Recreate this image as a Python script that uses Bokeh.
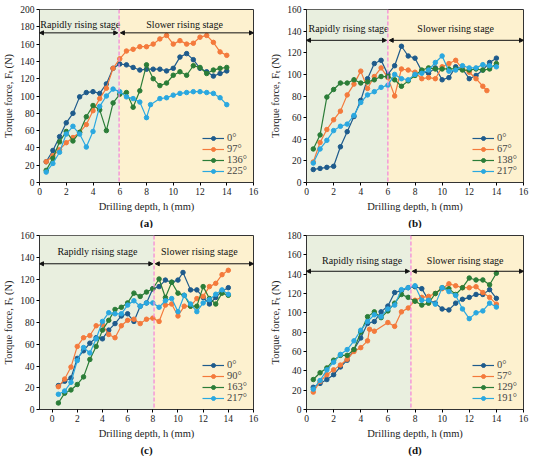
from bokeh.plotting import figure
from bokeh.layouts import gridplot
from bokeh.models import (BoxAnnotation, Span, Arrow, NormalHead, Title,
                          FixedTicker, Range1d, Legend, LegendItem)
from bokeh.core.properties import value
from bokeh.embed import file_html
from bokeh.resources import INLINE

FONT = "Liberation Serif"
COLORS = ["#1E5B8C", "#F47A3C", "#2B7D38", "#2AA8E0"]
GREEN_BG = "#E9EFDF"
YELLOW_BG = "#FDF1CF"
DASH_COLOR = "#F58AD8"

X = [0.5, 1, 1.5, 2, 2.5, 3, 3.5, 4, 4.5, 5, 5.5, 6, 6.5, 7, 7.5, 8, 8.5,
     9, 9.5, 10, 10.5, 11, 11.5, 12, 12.5, 13, 13.5, 14]

# ---- panel (a)
a_labels = ["0°", "97°", "136°", "225°"]
a_x0 = X
a_y0 = [24, 37, 53, 69, 80, 99, 104, 105, 103, 114, 132, 137, 136, 133, 130,
        131, 131, 131, 129, 132, 145, 149, 142, 132, 128, 123, 126, 129]
a_x1 = X
a_y1 = [24, 31, 38, 46, 52, 58, 67, 83, 97, 109, 132, 143, 152, 154, 157,
        157, 160, 166, 170, 160, 164, 160, 161, 168, 170, 162, 151, 147]
a_x2 = X
a_y2 = [14, 28, 47, 59, 48, 58, 76, 89, 84, 60, 92, 102, 104, 87, 106, 136,
        120, 112, 115, 124, 128, 124, 135, 133, 126, 130, 132, 133]
a_x3 = [0.5, 1, 1.5, 2, 2.5, 3, 3.5, 4, 4.5, 5, 5.5, 6, 6.5, 7, 7.5, 8, 8.3,
        9, 9.5, 10, 10.5, 11, 11.5, 12, 12.5, 13, 13.5, 14]
a_y3 = [12, 22, 35, 56, 65, 56, 41, 59, 88, 100, 108, 105, 99, 97, 93, 75,
        90, 97, 98, 101, 103, 104, 105, 105, 104, 103, 98, 90]

# ---- panel (b)
b_labels = ["0°", "67°", "138°", "217°"]
b_x0 = X
b_y0 = [12, 13, 14, 15, 33, 47, 61, 76, 96, 110, 113, 100, 108, 126, 117,
        115, 103, 101, 106, 95, 97, 107, 105, 96, 99, 104, 111, 115]
b_x1 = [0.5, 1, 1.5, 2, 2.5, 3, 3.5, 4, 4.5, 5, 5.5, 6, 6.5, 7, 7.5, 8, 8.5,
        9, 9.5, 10, 10.5, 11, 11.5, 12, 12.5, 13, 13.3]
b_y1 = [19, 37, 49, 58, 66, 81, 91, 103, 87, 98, 106, 97, 80, 105, 104, 102,
        96, 97, 96, 107, 110, 113, 105, 102, 96, 89, 85]
b_x2 = X
b_y2 = [31, 44, 79, 86, 92, 92, 95, 92, 93, 95, 98, 98, 95, 89, 94, 99, 104,
        106, 105, 105, 105, 105, 104, 104, 105, 104, 105, 110]
b_x3 = X
b_y3 = [18, 31, 39, 48, 52, 54, 62, 74, 81, 84, 88, 90, 100, 96, 95, 100, 101,
        104, 111, 117, 103, 104, 108, 106, 106, 109, 108, 107]

# ---- panel (c)
c_labels = ["0°", "90°", "163°", "217°"]
c_x0 = [0.5, 1, 1.5, 2, 2.5, 3, 3.5, 4, 4.5, 5, 5.5, 6, 6.5, 7, 7.5, 8, 8.5,
        9, 9.5, 10, 10.4, 11, 11.5, 12, 12.5, 13, 13.5, 14]
c_y0 = [22, 26, 29, 47, 54, 61, 66, 65, 73, 79, 86, 88, 81, 95, 98, 111, 113,
        119, 117, 119, 126, 110, 110, 103, 97, 103, 109, 112]
c_x1 = X
c_y1 = [21, 28, 39, 58, 66, 68, 77, 78, 69, 66, 77, 82, 83, 79, 83, 84, 81,
        96, 97, 86, 95, 95, 102, 104, 113, 116, 124, 128]
c_x2 = X
c_y2 = [6, 15, 18, 23, 30, 46, 58, 73, 82, 92, 94, 98, 107, 104, 108, 111,
        120, 103, 117, 107, 105, 95, 95, 113, 102, 97, 107, 105]
c_x3 = X
c_y3 = [14, 17, 25, 45, 57, 52, 65, 81, 89, 88, 88, 96, 100, 95, 98, 98, 94,
        100, 102, 90, 105, 97, 90, 98, 101, 106, 110, 106]

# ---- panel (d)
d_labels = ["0°", "57°", "129°", "191°"]
d_x0 = X
d_y0 = [23, 27, 31, 36, 44, 51, 62, 74, 89, 91, 101, 107, 121, 123, 126, 127,
        125, 113, 110, 104, 103, 110, 114, 116, 119, 119, 124, 115]
d_x1 = [0.5, 1, 1.5, 2, 2.5, 3, 3.5, 4, 4.5, 4.65, 5, 6, 6.5, 7, 7.5, 8, 8.5,
        9, 9.5, 10, 10.5, 11, 11.5, 12, 12.5, 13, 13.5, 14]
d_y1 = [18, 29, 36, 41, 46, 52, 60, 64, 71, 83, 81, 90, 86, 101, 105, 113,
        116, 117, 120, 125, 130, 128, 126, 126, 127, 121, 116, 109]
d_x2 = X
d_y2 = [31, 38, 43, 51, 56, 56, 62, 80, 96, 101, 95, 102, 110, 119, 116, 112,
        108, 110, 120, 126, 125, 119, 126, 136, 134, 134, 129, 141]
d_x3 = X
d_y3 = [21, 30, 41, 49, 57, 62, 71, 82, 91, 98, 96, 104, 108, 124, 126, 128,
        113, 113, 109, 126, 122, 118, 104, 94, 100, 102, 110, 106]


def head():
    return NormalHead(size=4, fill_color="#111111", line_color="#111111",
                      line_width=1)


def panel(tag, labels, xs, ys, xstart, ymax, dash, arrow_y, text_y,
          text1_x, text2_x, borders):
    left, right, top, bottom = borders
    p = figure(width=267, height=228, output_backend="svg",
               toolbar_location=None,
               x_range=Range1d(xstart, 16), y_range=Range1d(0, ymax),
               min_border_left=left, min_border_right=right,
               min_border_top=top, min_border_bottom=bottom)
    p.background_fill_color = YELLOW_BG
    p.border_fill_color = "white"
    p.outline_line_color = "#333333"
    p.outline_line_width = 1
    p.grid.visible = False
    p.add_layout(BoxAnnotation(left=xstart, right=dash, fill_color=GREEN_BG,
                               fill_alpha=1, line_alpha=0, level="underlay"))
    p.add_layout(Span(location=dash, dimension="height",
                      line_color=DASH_COLOR, line_dash="4 2",
                      line_width=1.3))
    # double-headed arrows on both sides of the dashed divider
    p.add_layout(Arrow(x_start=xstart, x_end=dash - 0.1, y_start=arrow_y,
                       y_end=arrow_y, line_width=1, line_color="#111111",
                       start=head(), end=head()))
    p.add_layout(Arrow(x_start=dash + 0.1, x_end=16, y_start=arrow_y,
                       y_end=arrow_y, line_width=1, line_color="#111111",
                       start=head(), end=head()))
    p.text(x=[text1_x, text2_x], y=[text_y, text_y],
           text=["Rapidly rising stage", "Slower rising stage"],
           text_font=value(FONT), text_font_size="10px",
           text_align="center", text_baseline="middle", text_color="#111111")

    items = []
    for i in range(4):
        r1 = p.line(xs[i], ys[i], line_color=COLORS[i], line_width=1.2)
        r2 = p.scatter(xs[i], ys[i], size=4.5, marker="circle",
                       fill_color=COLORS[i], line_color=COLORS[i])
        items.append(LegendItem(label=labels[i], renderers=[r1, r2]))
    leg = Legend(items=items, location="bottom_right",
                 background_fill_alpha=0, border_line_alpha=0,
                 label_text_font=FONT, label_text_font_size="10.5px",
                 glyph_width=22, glyph_height=10, spacing=0, padding=2,
                 margin=4, label_standoff=3, label_height=10)
    p.add_layout(leg)

    p.xaxis.ticker = FixedTicker(ticks=list(range(0, 17, 2)))
    p.yaxis.ticker = FixedTicker(ticks=list(range(0, ymax + 1, 20)))
    for ax in (p.xaxis, p.yaxis):
        ax.major_tick_in = 0
        ax.major_tick_out = 3
        ax.minor_tick_line_color = None
        ax.major_label_text_font = FONT
        ax.major_label_text_font_size = "9.5px"
        ax.major_label_text_color = "#222222"
        ax.axis_label_text_font = FONT
        ax.axis_label_text_font_size = "10.5px"
        ax.axis_label_text_font_style = "normal"
        ax.axis_label_text_color = "#222222"
        ax.axis_line_color = "#333333"
        ax.major_label_standoff = 2
    p.xaxis.axis_label = "Drilling depth, h (mm)"
    p.yaxis.axis_label = "Torque force, Fₜ (N)"
    p.xaxis.axis_label_standoff = 3
    p.yaxis.axis_label_standoff = 3
    p.add_layout(Title(text=tag, align="center", text_font=FONT,
                       text_font_size="11px", text_font_style="bold",
                       text_color="#111111", standoff=0), "below")
    return p


pa = panel("(a)", a_labels, [a_x0, a_x1, a_x2, a_x3],
           [a_y0, a_y1, a_y2, a_y3], 0, 200, 5.95, 173, 183, 3.05, 10.85,
           (36, 14, 9, 45))
pb = panel("(b)", b_labels, [b_x0, b_x1, b_x2, b_x3],
           [b_y0, b_y1, b_y2, b_y3], 0, 160, 6.0, 131.5, 142, 3.1, 11.0,
           (39, 11, 8, 46))
pc = panel("(c)", c_labels, [c_x0, c_x1, c_x2, c_x3],
           [c_y0, c_y1, c_y2, c_y3], -1, 160, 8.1, 134, 145.5, 3.6, 11.7,
           (36, 14, 7, 47))
pd = panel("(d)", d_labels, [d_x0, d_x1, d_x2, d_x3],
           [d_y0, d_y1, d_y2, d_y3], 0, 180, 7.7, 143, 154, 4.1, 11.7,
           (39, 10, 7, 47))

grid = gridplot([[pa, pb], [pc, pd]], toolbar_location=None)
open("out.html", "w").write(file_html(grid, INLINE))
